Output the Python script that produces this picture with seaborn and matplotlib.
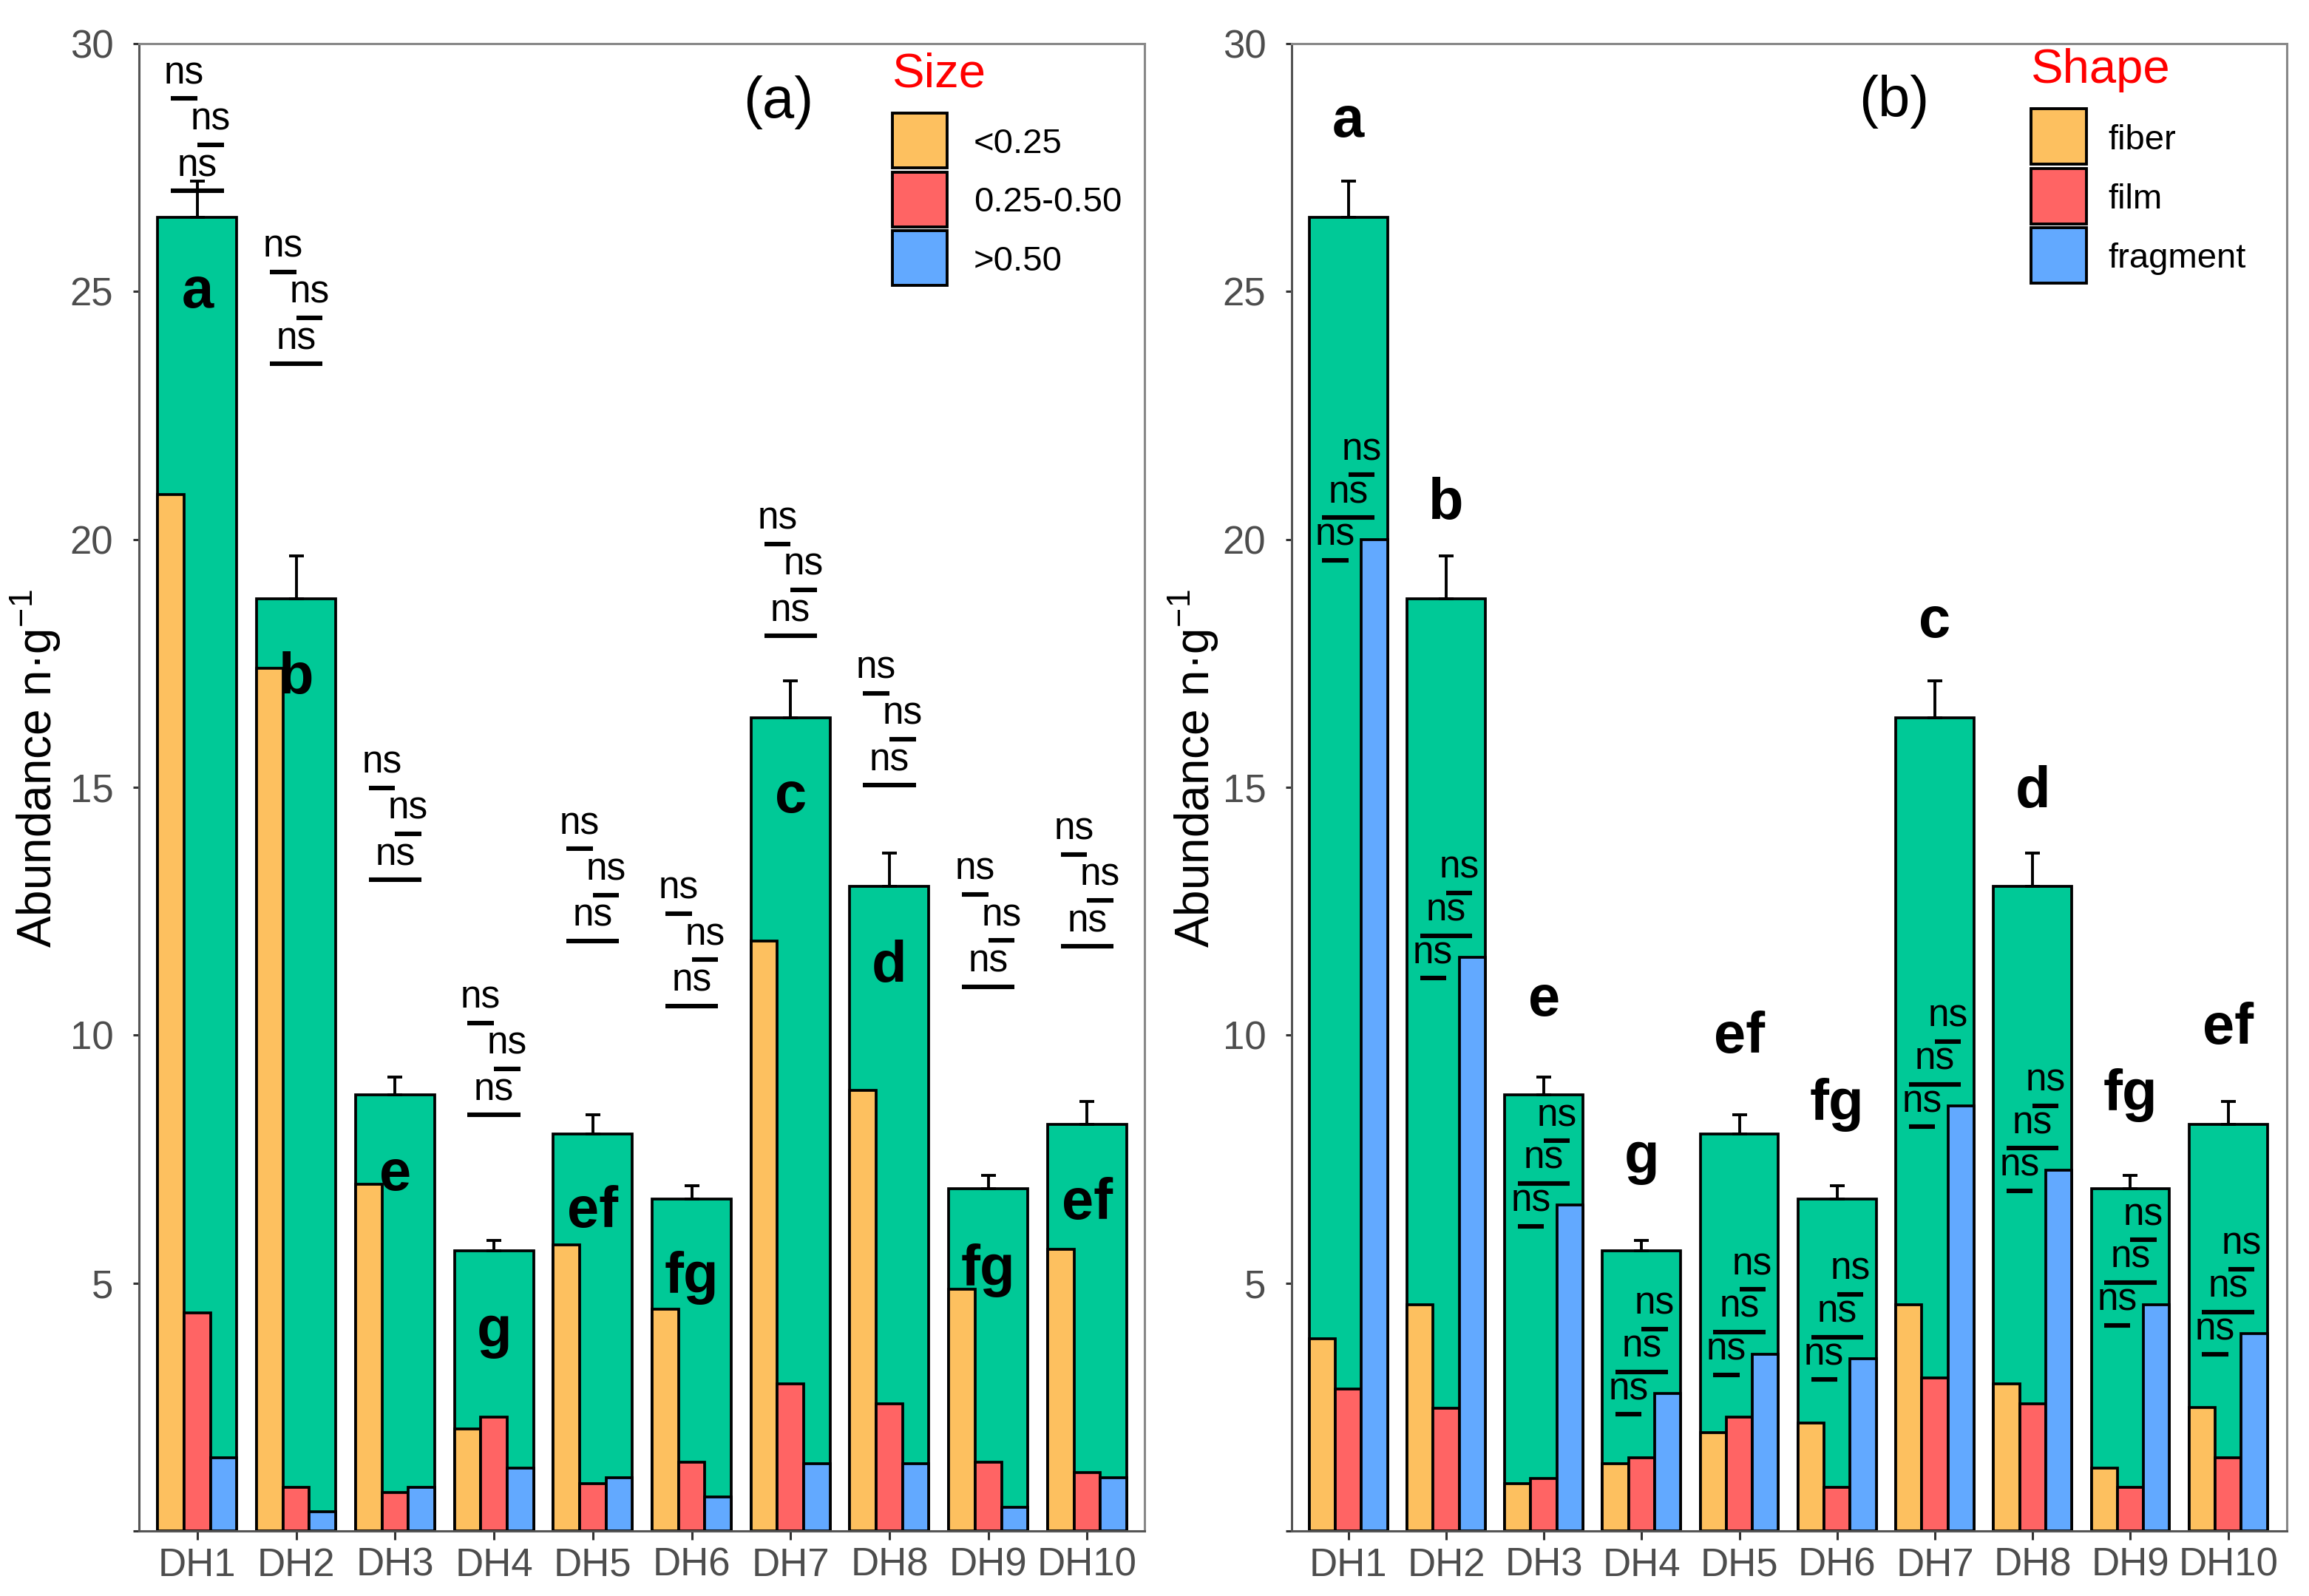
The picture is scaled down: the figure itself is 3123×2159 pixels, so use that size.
import numpy as np
import pandas as pd
import matplotlib
matplotlib.use("Agg")
import matplotlib.pyplot as plt
from matplotlib.patches import Rectangle
import seaborn as sns

# data
sites = ["DH1", "DH2", "DH3", "DH4", "DH5", "DH6", "DH7", "DH8", "DH9", "DH10"]
total = [26.5, 18.8, 8.8, 5.65, 8.0, 6.7, 16.4, 13.0, 6.9, 8.2]
total_err = [0.72, 0.87, 0.36, 0.21, 0.40, 0.27, 0.75, 0.67, 0.27, 0.47]

size_labels = ["<0.25", "0.25-0.50", ">0.50"]
size_lt025 = [20.9, 17.4, 7.0, 2.06, 5.77, 4.47, 11.9, 8.88, 4.87, 5.68]
size_025_050 = [4.4, 0.88, 0.78, 2.29, 0.95, 1.38, 2.97, 2.57, 1.38, 1.18]
size_gt050 = [1.47, 0.39, 0.88, 1.26, 1.08, 0.68, 1.36, 1.36, 0.47, 1.08]

shape_labels = ["fiber", "film", "fragment"]
shape_fiber = [3.88, 4.57, 0.95, 1.36, 1.98, 2.18, 4.57, 2.97, 1.26, 2.49]
shape_film = [2.87, 2.47, 1.06, 1.47, 2.29, 0.88, 3.08, 2.57, 0.88, 1.47]
shape_fragment = [20.0, 11.57, 6.57, 2.77, 3.57, 3.47, 8.57, 7.28, 4.57, 3.98]

letters = ["a", "b", "e", "g", "ef", "fg", "c", "d", "fg", "ef"]
letter_y_size = [24.67, 16.9, 6.87, 3.72, 6.13, 4.8, 14.5, 11.08, 4.95, 6.29]
letter_y_shape = [28.12, 20.41, 10.39, 7.21, 9.65, 8.29, 18.03, 14.6, 8.49, 9.83]

# lowest "ns" bracket of each site in panel (a)
sig_base_size = [27.03, 23.54, 13.13, 8.39, 11.9, 10.59, 18.05, 15.04, 10.98, 11.79]

GREEN = "#00C997"
PALETTE = ["#FDC05F", "#FF6464", "#62A9FF"]
TICK_GREY = "#4D4D4D"

sns.set_style("ticks")
plt.rcParams["font.family"] = ["Liberation Sans", "DejaVu Sans"]
plt.rcParams["mathtext.fontset"] = "custom"
plt.rcParams["mathtext.rm"] = "Liberation Sans"
plt.rcParams["text.color"] = "black"
plt.rcParams["axes.labelcolor"] = "black"

W, H = 3123, 2159
fig = plt.figure(figsize=(W / 200, H / 200), dpi=200)

# axes boxes in pixels: left, top, right, bottom
boxes = [(188, 59, 1548, 2071), (1747, 59, 3093, 2071)]
xlims = [(-0.59, 9.58), (-0.58, 9.60)]


def make_ax(box):
    l, t, r, b = box
    return fig.add_axes([l / W, 1 - b / H, (r - l) / W, (b - t) / H])


def draw_panel(ax, parts, part_labels, xlim):
    sns.barplot(x=sites, y=total, color=GREEN, saturation=1, width=0.8,
                edgecolor="black", linewidth=1.35, errorbar=None, ax=ax)
    wide = pd.DataFrame({"site": sites})
    for lab, vals in zip(part_labels, parts):
        wide[lab] = vals
    long = wide.melt(id_vars="site", var_name="cls", value_name="abundance")
    sns.barplot(data=long, x="site", y="abundance", hue="cls", order=sites,
                hue_order=part_labels, palette=PALETTE, saturation=1,
                width=0.8, edgecolor="black", linewidth=1.35, errorbar=None,
                legend=False, ax=ax)
    ax.errorbar(np.arange(len(sites)), total,
                yerr=[np.zeros(len(sites)), total_err], fmt="none",
                ecolor="black", elinewidth=1.4, capsize=3.5, capthick=1.4,
                zorder=5)
    ax.set_xlim(*xlim)
    ax.set_ylim(0, 30)
    ax.set_yticks([0, 5, 10, 15, 20, 25, 30])
    ax.set_yticklabels(["", "5", "10", "15", "20", "25", "30"])
    ax.set_xlabel("")
    ax.set_ylabel("Abundance n·g$^{-1}$", fontsize=23, color="black")
    ax.tick_params(axis="both", labelsize=19, labelcolor=TICK_GREY,
                   color="#333333", width=1.1)
    ax.tick_params(axis="x", length=4.3, pad=3.5)
    ax.tick_params(axis="y", length=3, pad=9.5)
    for side in ["left", "bottom"]:
        ax.spines[side].set_color("#555555")
        ax.spines[side].set_linewidth(1.1)
    for side in ["top", "right"]:
        ax.spines[side].set_visible(True)
        ax.spines[side].set_color("#888888")
        ax.spines[side].set_linewidth(1.1)


def draw_sig(ax, bases, step, order):
    d = 0.8 / 3
    spans = {"12": (-d, 0), "23": (0, d), "13": (-d, d)}
    for i, base in enumerate(bases):
        for k, key in enumerate(order):
            y = base + step * (len(order) - 1 - k)
            x1, x2 = i + spans[key][0], i + spans[key][1]
            ax.plot([x1, x2], [y, y], color="black", lw=2.2,
                    solid_capstyle="butt", zorder=6)
            ax.text((x1 + x2) / 2, y + 0.3, "ns", ha="center",
                    va="baseline", fontsize=18.5, color="black", zorder=6)


def draw_legend(ax, box, title, labels, x_px, tops_px, size_px, text_x_px,
                title_base_px):
    l, t, r, b = box
    fx = lambda x: (x - l) / (r - l)
    fy = lambda y: (b - y) / (b - t)
    ax.text(fx(x_px), fy(title_base_px), title, transform=ax.transAxes,
            color="#FF0000", fontsize=23.5, ha="left", va="baseline")
    for top, lab, col in zip(tops_px, labels, PALETTE):
        ax.add_patch(Rectangle((fx(x_px), fy(top + size_px)),
                               size_px / (r - l), size_px / (b - t),
                               transform=ax.transAxes, facecolor=col,
                               edgecolor="black", lw=1.4, clip_on=False,
                               zorder=7))
        ax.text(fx(text_x_px), fy(top + size_px / 2 + 17), lab,
                transform=ax.transAxes, fontsize=17, ha="left",
                va="baseline", color="black")


# panel (a): size classes
ax1 = make_ax(boxes[0])
draw_panel(ax1, [size_lt025, size_025_050, size_gt050], size_labels, xlims[0])
draw_sig(ax1, sig_base_size, 0.93, ["12", "23", "13"])
for i, (lt, y) in enumerate(zip(letters, letter_y_size)):
    ax1.text(i, y, lt, ha="center", va="baseline", fontsize=28,
             fontweight="bold", color="black", zorder=6)
ax1.text(0.636, 0.9607, "(a)", transform=ax1.transAxes, fontsize=28,
         ha="center", va="center", color="black")
draw_legend(ax1, boxes[0], "Size", size_labels, 1207, [153, 232.5, 312], 74,
            1317, 118)
ax1.yaxis.set_label_coords(-0.0765, 0.5124)

# panel (b): shapes
ax2 = make_ax(boxes[1])
draw_panel(ax2, [shape_fiber, shape_film, shape_fragment], shape_labels,
           xlims[1])
draw_sig(ax2, [v - 0.42 for v in shape_fragment], 0.86, ["23", "13", "12"])
for i, (lt, y) in enumerate(zip(letters, letter_y_shape)):
    ax2.text(i, y, lt, ha="center", va="baseline", fontsize=28,
             fontweight="bold", color="black", zorder=6)
ax2.text(0.605, 0.9612, "(b)", transform=ax2.transAxes, fontsize=28,
         ha="center", va="center", color="black")
draw_legend(ax2, boxes[1], "Shape", shape_labels, 2747, [147, 227.5, 308], 75,
            2851, 112)
ax2.yaxis.set_label_coords(-0.072, 0.5124)

fig.savefig("out.png", dpi=200)
